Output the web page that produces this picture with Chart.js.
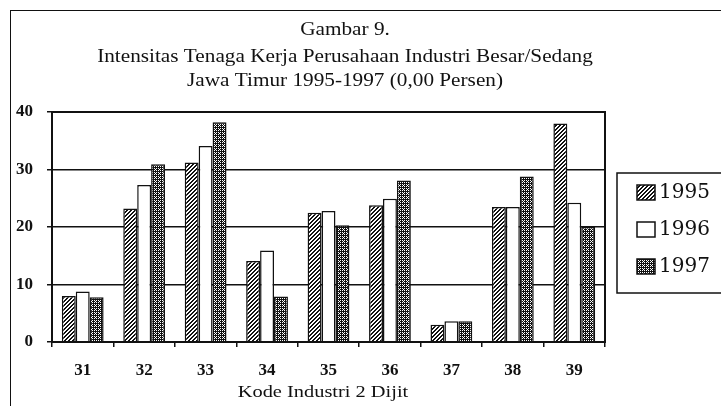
<!DOCTYPE html>
<html>
<head>
  <title>Gambar 9</title>
  <script src="https://cdn.jsdelivr.net/npm/chart.js@4"></script>
  <style>
    body { margin: 0; background: #fff; }
    #wrap { position: relative; width: 721px; height: 406px; }
    #frame {
      position: absolute; left: 10px; top: 10px; width: 730px; height: 420px;
      border-left: 1.5px solid #111; border-top: 1.5px solid #111;
    }
    canvas { position: absolute; left: 0; top: 0; }
  </style>
</head>
<body>
  <div id="wrap">
    <div id="frame"></div>
    <canvas id="chart" width="721" height="406"></canvas>
  </div>

  <script>
    const categories = ['31', '32', '33', '34', '35', '36', '37', '38', '39'];
    const years = ['1995', '1996', '1997'];
    const v1995 = [8.0, 23.2, 31.2, 14.1, 22.5, 23.8, 3.0, 23.5, 38.0];
    const v1996 = [8.8, 27.3, 34.1, 15.9, 22.8, 24.9, 3.6, 23.5, 24.2];
    const v1997 = [7.8, 30.9, 38.2, 7.9, 20.3, 28.1, 3.6, 28.8, 20.0];
    const yTicks = [0, 10, 20, 30, 40];
    const titleLines = [
      'Gambar 9.',
      'Intensitas Tenaga Kerja Perusahaan Industri Besar/Sedang',
      'Jawa Timur 1995-1997 (0,00 Persen)'
    ];
    const xTitle = 'Kode Industri 2 Dijit';

    // little bitmap fills like the old print patterns
    function pattern(kind) {
      const c = document.createElement('canvas');
      c.width = 4; c.height = 4;
      const g = c.getContext('2d');
      g.fillStyle = '#fff';
      g.fillRect(0, 0, 4, 4);
      g.fillStyle = '#111';
      for (let x = 0; x < 4; x++) {
        for (let y = 0; y < 4; y++) {
          let on;
          if (kind === 'hatch') on = (x + y) % 4 < 2;
          else on = !((x % 2 === 0 && y % 2 === 0) || (x === 3 && y === 1));
          if (on) g.fillRect(x, y, 1, 1);
        }
      }
      return g.createPattern(c, 'repeat');
    }

    const fills = [pattern('hatch'), '#ffffff', pattern('dots')];
    const values = [v1995, v1996, v1997];

    // text stretched sideways, the scan is wider than the fonts we have
    function wideText(ctx, text, x, y, sx) {
      ctx.save();
      ctx.translate(x, y);
      ctx.scale(sx, 1);
      ctx.fillText(text, 0, 0);
      ctx.restore();
    }

    const decor = {
      id: 'decor',
      afterDraw(chart) {
        const ctx = chart.ctx;
        const a = chart.chartArea;
        ctx.save();
        // plot frame
        ctx.strokeStyle = '#111';
        ctx.lineWidth = 2;
        ctx.strokeRect(a.left, a.top, a.right - a.left, a.bottom - a.top);

        // title
        ctx.fillStyle = '#111';
        ctx.font = '18px "Liberation Serif"';
        ctx.textAlign = 'center';
        ctx.textBaseline = 'middle';
        const tops = [30, 57, 81];
        titleLines.forEach((t, i) => wideText(ctx, t, 345, tops[i], 1.18));

        // axis title
        ctx.font = '17px "Liberation Serif"';
        wideText(ctx, xTitle, 323, 393, 1.2);

        // legend box
        ctx.lineWidth = 1.5;
        ctx.strokeRect(617, 173, 120, 120);
        ctx.font = '20px "DejaVu Serif"';
        ctx.textAlign = 'left';
        const rows = [193, 230, 267];
        years.forEach((y, i) => {
          ctx.fillStyle = fills[i];
          ctx.fillRect(637, rows[i] - 8, 18, 15);
          ctx.strokeStyle = '#111';
          ctx.lineWidth = 1.5;
          ctx.strokeRect(637, rows[i] - 8, 18, 15);
          ctx.fillStyle = '#111';
          ctx.fillText(y, 659, rows[i]);
        });
        ctx.restore();
      }
    };

    new Chart(document.getElementById('chart').getContext('2d'), {
      type: 'bar',
      data: {
        labels: categories,
        datasets: years.map((y, i) => ({
          label: y,
          data: values[i],
          backgroundColor: fills[i],
          borderColor: '#111',
          borderWidth: 1.5,
          barPercentage: 1,
          categoryPercentage: 0.68
        }))
      },
      options: {
        responsive: false,
        animation: false,
        layout: { padding: { left: 0, right: 116, top: 112, bottom: 0 } },
        plugins: {
          legend: { display: false },
          title: { display: false },
          tooltip: { enabled: false }
        },
        scales: {
          x: {
            afterFit: s => { s.height = 64; },
            grid: { display: true, drawOnChartArea: false, color: '#111', lineWidth: 1.5, tickLength: 5 },
            border: { color: '#111', width: 2 },
            ticks: { color: '#111', padding: 13, font: { family: 'Liberation Serif', size: 17, weight: 'bold' } }
          },
          y: {
            min: 0,
            max: 40,
            afterFit: s => { s.width = 52; },
            afterBuildTicks: s => { s.ticks = yTicks.map(v => ({ value: v })); },
            grid: { color: '#111', lineWidth: 1.5, tickLength: 5 },
            border: { color: '#111', width: 2 },
            ticks: { color: '#111', padding: 14, font: { family: 'Liberation Serif', size: 17, weight: 'bold' } }
          }
        }
      },
      plugins: [decor]
    });
  </script>
</body>
</html>
